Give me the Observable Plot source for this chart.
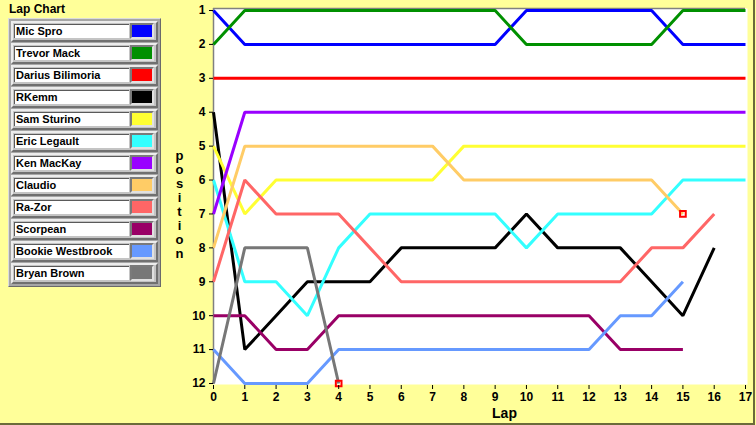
<!DOCTYPE html>
<html><head><meta charset="utf-8">
<script src="https://cdn.jsdelivr.net/npm/d3@7"></script>
<script src="https://cdn.jsdelivr.net/npm/@observablehq/plot@0.6"></script>
<style>
html,body{margin:0;padding:0;background:#FFFF99;}
#wrap{position:relative;width:756px;height:425px;overflow:hidden;background:#FFFF99;font-family:"Liberation Sans",Arial,sans-serif;}
#chart{position:absolute;left:0;top:0;}
#title{position:absolute;left:9px;top:2px;font-size:12px;font-weight:bold;color:#000;line-height:15px;}
#legend{position:absolute;left:8px;top:18px;width:153px;height:269px;box-sizing:border-box;background:#a6a6a6;border:1px solid;border-color:#dcdcdc #6a6a6a #6a6a6a #dcdcdc;}
.row{position:absolute;left:2px;width:147px;height:21px;box-sizing:border-box;border:2px solid;border-color:#ececec #707070 #707070 #ececec;background:#c4c4c4;}
.name{position:absolute;left:1px;top:1px;width:115px;height:14px;box-sizing:border-box;background:#fff;border-top:1px solid #5a5a5a;border-left:1px solid #5a5a5a;font-size:11px;font-weight:bold;line-height:13px;padding-left:1px;color:#000;white-space:nowrap;overflow:hidden;}
.sw{position:absolute;left:117px;top:0px;width:24px;height:16px;box-sizing:border-box;border:2px solid;border-color:#7a7a7a #e0e0e0 #e0e0e0 #7a7a7a;}
#border{position:absolute;left:0;top:0;width:755px;height:425px;box-sizing:border-box;border-right:2px solid #6b6b3a;border-bottom:2px solid #6b6b3a;pointer-events:none;}
</style>
</head><body>
<div id="wrap">
  <div id="chart"></div>
  <div id="title">Lap Chart</div>
  <div id="legend"></div>
  <div id="border"></div>
</div>
<script>
// ---- data ----
const laps = [0,1,2,3,4,5,6,7,8,9,10,11,12,13,14,15,16,17];
const positionTicks = [1,2,3,4,5,6,7,8,9,10,11,12];
const drivers = ["Mic Spro","Trevor Mack","Darius Bilimoria","RKemm","Sam Sturino","Eric Legault","Ken MacKay","Claudio","Ra-Zor","Scorpean","Bookie Westbrook","Bryan Brown"];
const colors = ["#0000FF","#009000","#FF0000","#000000","#FFFF33","#33FFFF","#9900FF","#FFCC66","#FF6666","#990066","#6699FF","#777777"];

const micSpro      = [1,2,2,2,2,2,2,2,2,2,1,1,1,1,1,2,2,2];
const trevorMack   = [2,1,1,1,1,1,1,1,1,1,2,2,2,2,2,1,1,1];
const dariusBili   = [3,3,3,3,3,3,3,3,3,3,3,3,3,3,3,3,3,3];
const rKemm        = [4,11,10,9,9,9,8,8,8,8,7,8,8,8,9,10,8];
const samSturino   = [5,7,6,6,6,6,6,6,5,5,5,5,5,5,5,5,5,5];
const ericLegault  = [6,9,9,10,8,7,7,7,7,7,8,7,7,7,7,6,6,6];
const kenMacKay    = [7,4,4,4,4,4,4,4,4,4,4,4,4,4,4,4,4,4];
const claudio      = [8,5,5,5,5,5,5,5,6,6,6,6,6,6,6,7];
const raZor        = [9,6,7,7,7,8,9,9,9,9,9,9,9,9,8,8,7];
const scorpean     = [10,10,11,11,10,10,10,10,10,10,10,10,10,11,11,11];
const bookieWest   = [11,12,12,12,11,11,11,11,11,11,11,11,11,10,10,9];
const bryanBrown   = [12,8,8,8,12];

const retired = ["Claudio","Bryan Brown"];

// ---- build tables ----
const series = [micSpro,trevorMack,dariusBili,rKemm,samSturino,ericLegault,kenMacKay,claudio,raZor,scorpean,bookieWest,bryanBrown];
const rows = drivers.flatMap((name, i) => series[i].map((pos, k) => ({name, lap: laps[k], pos})));
const ends = retired.map(name => {
  const s = series[drivers.indexOf(name)];
  return {name, lap: laps[s.length - 1], pos: s[s.length - 1]};
});

const font = "'Liberation Sans', Arial, sans-serif";

const chart = Plot.plot({
  width: 756,
  height: 425,
  marginLeft: 213,
  marginRight: 11,
  marginTop: 10,
  marginBottom: 42,
  style: {background: "transparent", fontFamily: font, fontSize: "12px", fontWeight: "bold", color: "#000", overflow: "visible"},
  x: {domain: [0, 17], label: null},
  y: {domain: [1, 12], reverse: true, label: null},
  color: {domain: drivers, range: colors},
  marks: [
    Plot.frame({fill: "white", stroke: null, insetTop: -2, insetRight: -2, insetBottom: -1}),
    Plot.ruleX([0], {stroke: "#808080", strokeWidth: 1.5, insetTop: -2, insetBottom: -1}),
    Plot.ruleY([1], {stroke: "#808080", strokeWidth: 1.5, dy: -2}),
    Plot.line(rows, {x: "lap", y: "pos", z: "name", stroke: "name", strokeWidth: 3, strokeLinejoin: "miter", strokeLinecap: "butt"}),
    Plot.dot(ends, {x: "lap", y: "pos", symbol: "square", r: 3.2, stroke: "#FF0000", strokeWidth: 2, fill: "none"}),
    Plot.axisY({ticks: positionTicks, tickSize: 4, tickPadding: 4, tickFormat: d => d, stroke: "#000", fill: "#000", fontSize: 12, fontWeight: "bold", label: null}),
    Plot.axisX({ticks: laps, tickSize: 4, tickPadding: 3, dy: 2, tickFormat: d => d, stroke: "#000", fill: "#000", fontSize: 12, fontWeight: "bold", label: null}),
    Plot.text(["p\no\ns\ni\nt\ni\no\nn"], {frameAnchor: "left", textAnchor: "middle", lineAnchor: "middle", text: d => d, dx: -34, dy: 8, fontSize: 13, lineHeight: 14/13, fontWeight: "bold", fill: "#000"}),
    Plot.text(["Lap"], {frameAnchor: "bottom", textAnchor: "middle", lineAnchor: "middle", text: d => d, dx: 25, dy: 30, fontSize: 14, fontWeight: "bold", fill: "#000"})
  ]
});
document.getElementById("chart").appendChild(chart);

// ---- legend ----
const legend = document.getElementById("legend");
drivers.forEach((name, i) => {
  const row = document.createElement("div");
  row.className = "row";
  row.style.top = (2 + 22 * i) + "px";
  const nm = document.createElement("div");
  nm.className = "name";
  nm.textContent = name;
  const sw = document.createElement("div");
  sw.className = "sw";
  sw.style.background = colors[i];
  row.appendChild(nm);
  row.appendChild(sw);
  legend.appendChild(row);
});
</script>
</body></html>
